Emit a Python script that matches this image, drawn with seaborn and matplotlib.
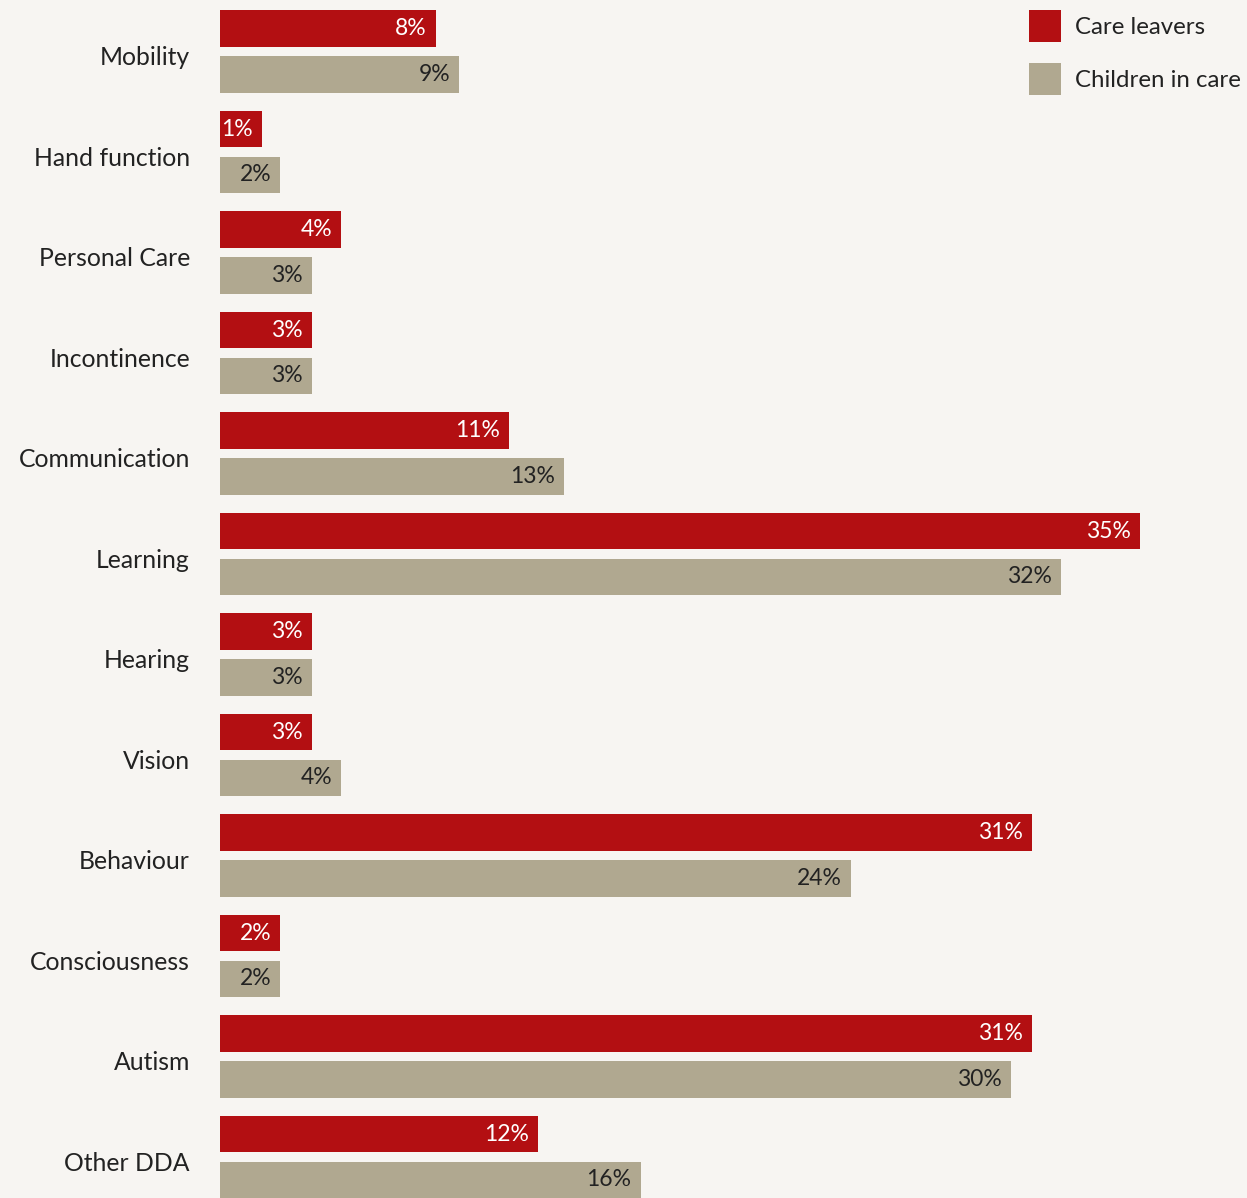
import matplotlib
matplotlib.use("Agg")
import matplotlib.pyplot as plt
import seaborn as sns
import pandas as pd
from matplotlib.patches import Patch
from matplotlib.transforms import blended_transform_factory, offset_copy

categories = ["Mobility", "Hand function", "Personal Care", "Incontinence", "Communication",
              "Learning", "Hearing", "Vision", "Behaviour", "Consciousness", "Autism", "Other DDA"]
series_names = ["Care leavers", "Children in care"]
care_leavers = [8.2, 1.6, 4.6, 3.5, 11.0, 35.0, 3.5, 3.5, 30.9, 2.3, 30.9, 12.1]
children_in_care = [9.1, 2.3, 3.5, 3.5, 13.1, 32.0, 3.5, 4.6, 24.0, 2.3, 30.1, 16.0]
care_labels = [8, 1, 4, 3, 11, 35, 3, 3, 31, 2, 31, 12]
children_labels = [9, 2, 3, 3, 13, 32, 3, 4, 24, 2, 30, 16]

RED = "#b30f12"
GREY = "#b0a890"
BG = "#f7f5f2"
TXT = "#222222"

sns.set_theme(style="white")
plt.rcParams["font.family"] = ["Lato", "DejaVu Sans"]

df = pd.DataFrame({
    "category": categories * 2,
    "series": [series_names[0]] * len(categories) + [series_names[1]] * len(categories),
    "value": care_leavers + children_in_care,
})

W, H = 1247, 1198
fig = plt.figure(figsize=(W / 100, H / 100), dpi=100, facecolor=BG)
ax = fig.add_axes([220 / W, 0, 1 - 220 / W, 1])
ax.set_facecolor(BG)

sns.barplot(data=df, x="value", y="category", hue="series", order=categories,
            hue_order=series_names, palette=[RED, GREY], orient="h",
            width=0.915, gap=0.2, saturation=1, linewidth=0, ax=ax, legend=False)

px_per_unit = 920 / 35.0
ax.set_xlim(0, (W - 220) / px_per_unit)
pitch = 100.5
ax.set_ylim(H / pitch - 51.5 / pitch, -51.5 / pitch)

for s in ax.spines.values():
    s.set_visible(False)
ax.set_xticks([])
ax.set_yticks([])
ax.set_xlabel("")
ax.set_ylabel("")

# value labels inside bar ends
inside = offset_copy(ax.transData, fig=fig, x=-9, y=0, units="dots")
label_sets = [(care_labels, "white"), (children_labels, TXT)]
for container, (labs, col) in zip(ax.containers, label_sets):
    for bar, lab in zip(container.patches, labs):
        x_end = bar.get_x() + bar.get_width()
        yc = bar.get_y() + bar.get_height() / 2
        ax.text(x_end, yc, f"{lab}%", transform=inside, ha="right", va="center",
                fontsize=16.5, color=col)

# category labels
trans = blended_transform_factory(ax.transAxes, ax.transData)
for i, cat in enumerate(categories):
    ax.text(-30 / (W - 220), i + 0.06, cat, transform=trans, ha="right", va="center",
            fontsize=17.8, color=TXT)

handles = [Patch(facecolor=RED, edgecolor="none"), Patch(facecolor=GREY, edgecolor="none")]
leg = fig.legend(handles, series_names, loc="upper left",
                 bbox_to_anchor=(1029 / W, 1 - 10 / H), bbox_transform=fig.transFigure,
                 frameon=False, fontsize=17.3, handlelength=1.33, handleheight=1.67,
                 handletextpad=0.58, labelspacing=0.88, borderpad=0, borderaxespad=0)
for t in leg.get_texts():
    t.set_color(TXT)

fig.savefig("out.png", dpi=100, facecolor=BG)
